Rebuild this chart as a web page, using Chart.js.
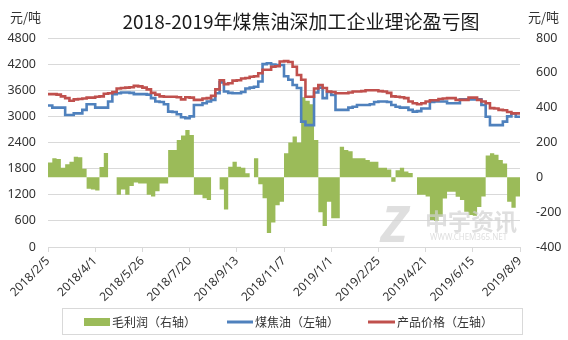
<!DOCTYPE html>
<html>
<head>
<meta charset="utf-8">
<title>煤焦油深加工企业理论盈亏图</title>
<script src="https://cdn.jsdelivr.net/npm/chart.js@4/dist/chart.umd.min.js"></script>
<style>
  html, body { margin: 0; padding: 0; background: #fff; }
  #wrap { width: 568px; height: 340px; }
</style>
</head>
<body>
<div id="wrap"><canvas id="chart" width="568" height="340"></canvas></div>
<script>
// date ticks on the x axis, one every 55 days
const tickLabels = ['2018/2/5', '2018/4/1', '2018/5/26', '2018/7/20', '2018/9/13', '2018/11/7',
  '2019/1/1', '2019/2/25', '2019/4/21', '2019/6/15', '2019/8/9'];

// 5-day samples from 2018/2/5 to 2019/8/9 (111 points)
// gross profit, yuan/ton (right axis)
const profit = [
  85, 110, 105, 55, 75, 90, 118, 115, 50, -65, -70,
  -75, 60, 140, 0, 0, -100, -70, -100, -50, -30, -35,
  -35, -100, -110, -80, -35, -35, 157, 157, 214, 240, 272,
  243, -100, -100, -120, -130, 0, 0, -70, -185, 61, 90,
  61, 55, 23, 0, 109, -40, -120, -320, -260, -160, -140,
  138, 200, 235, 200, 460, 440, 420, 214, -200, -280, -140,
  -235, -235, 176, 157, 150, 109, 109, 109, 100, 90, 90,
  55, 55, 45, -25, 40, 55, 33, 25, 0, -100, -100,
  -110, -245, -250, -226, -121, -83, -83, -111, -130, -197, -216,
  -220, -170, -110, 125, 138, 130, 100, 80, -140, -175, -110,
  -110
];

// coal tar price, yuan/ton (left axis)
const coalTar = [
  3250, 3200, 3200, 3200, 3030, 3030, 3070, 3070, 3150, 3280, 3280,
  3200, 3200, 3200, 3340, 3510, 3530, 3550, 3550, 3540, 3510, 3510,
  3510, 3500, 3420, 3340, 3330, 3280, 3110, 3100, 3050, 2980, 2960,
  3000, 3260, 3260, 3300, 3340, 3380, 3530, 3780, 3570, 3540, 3530,
  3530, 3560, 3640, 3660, 3680, 3800, 4200, 4220, 4190, 4180, 4180,
  3920, 3840, 3720, 3650, 2880, 2800, 2800, 3550, 3660, 3420, 3560,
  3490, 3150, 3150, 3150, 3200, 3220, 3260, 3260, 3260, 3280, 3330,
  3340, 3340, 3330, 3260, 3220, 3200, 3200, 3150, 3110, 3120, 3180,
  3180, 3330, 3340, 3340, 3340, 3300, 3300, 3300, 3390, 3390, 3390,
  3390, 3390, 3260, 2990, 2800, 2800, 2800, 2880, 3000, 3070, 2990,
  2990
];

// product basket price, yuan/ton (left axis)
const productPrice = [
  3510, 3510, 3500, 3460, 3420, 3360, 3390, 3400, 3410, 3430, 3430,
  3450, 3460, 3520, 3530, 3560, 3640, 3650, 3660, 3670, 3700, 3690,
  3660, 3620, 3540, 3500, 3460, 3450, 3450, 3450, 3440, 3390, 3440,
  3430, 3380, 3380, 3410, 3420, 3470, 3620, 3830, 3740, 3760, 3820,
  3830, 3870, 3880, 3910, 3920, 3990, 4070, 4070, 4140, 4150, 4260,
  4270, 4250, 4140, 3950, 3840, 3450, 3450, 3640, 3720, 3650, 3570,
  3560, 3530, 3530, 3530, 3550, 3570, 3570, 3580, 3600, 3600, 3600,
  3580, 3570, 3540, 3460, 3450, 3440, 3420, 3340, 3300, 3280, 3300,
  3340, 3370, 3370, 3400, 3410, 3420, 3420, 3380, 3380, 3380, 3430,
  3430, 3380, 3340, 3300, 3190, 3180, 3150, 3140, 3100, 3070, 3070,
  3070
];

const legendNames = ['毛利润（右轴）', '煤焦油（左轴）', '产品价格（左轴）'];
const GREEN = '#9bbb59', BLUE = '#4f81bd', RED = '#c0504d';
const GRID = '#d9d9d9', TEXT = '#333333';
const NUM_FONT = '"Noto Sans", "Noto Sans CJK SC", sans-serif';
const CJK_FONT = '"Noto Sans CJK SC", "Noto Sans", sans-serif';

const TICK_EVERY = (profit.length - 1) / (tickLabels.length - 1);
const labels = profit.map((_, i) => i);

// title, unit captions, watermark and the boxed legend
const decorations = {
  id: 'decorations',
  afterDatasetsDraw(chart) {
    const ctx = chart.ctx;
    ctx.save();
    // watermark
    ctx.fillStyle = 'rgba(210,210,210,0.7)';
    ctx.textBaseline = 'alphabetic';
    ctx.textAlign = 'left';
    ctx.font = 'italic bold 50px ' + NUM_FONT;
    ctx.fillText('Z', 381, 242);
    ctx.font = 'bold 23px ' + CJK_FONT;
    ctx.fillText('中宇资讯', 425, 230);
    ctx.font = '8px ' + NUM_FONT;
    ctx.fillText('WWW.CHEM365.NET', 430, 240);
    ctx.restore();
  },
  afterDraw(chart) {
    const ctx = chart.ctx;
    ctx.save();
    ctx.fillStyle = '#1a1a1a';
    ctx.textBaseline = 'middle';
    ctx.textAlign = 'center';
    ctx.font = '19px ' + CJK_FONT;
    ctx.fillText('2018-2019年煤焦油深加工企业理论盈亏图', 301, 22);

    ctx.fillStyle = TEXT;
    ctx.font = '13px ' + CJK_FONT;
    ctx.textAlign = 'left';
    ctx.fillText('元/吨', 10, 17);
    ctx.fillText('元/吨', 528, 17);

    // legend
    ctx.strokeStyle = GRID;
    ctx.lineWidth = 1;
    ctx.strokeRect(62.5, 308.5, 460, 26);
    const cy = 322;
    ctx.fillStyle = GREEN;
    ctx.fillRect(84, cy - 4, 26, 8);
    ctx.lineWidth = 3;
    ctx.strokeStyle = BLUE;
    ctx.beginPath(); ctx.moveTo(227, cy); ctx.lineTo(253, cy); ctx.stroke();
    ctx.strokeStyle = RED;
    ctx.beginPath(); ctx.moveTo(368, cy); ctx.lineTo(395, cy); ctx.stroke();
    ctx.fillStyle = TEXT;
    ctx.font = '12px ' + CJK_FONT;
    ctx.fillText(legendNames[0], 112, cy);
    ctx.fillText(legendNames[1], 255, cy);
    ctx.fillText(legendNames[2], 397, cy);
    ctx.restore();
  }
};

new Chart(document.getElementById('chart'), {
  type: 'line',
  data: {
    labels,
    datasets: [
      {
        label: legendNames[2], data: productPrice, yAxisID: 'y', order: 1,
        borderColor: RED, borderWidth: 2.6, stepped: true, pointRadius: 0, fill: false
      },
      {
        label: legendNames[1], data: coalTar, yAxisID: 'y', order: 2,
        borderColor: BLUE, borderWidth: 2.6, stepped: true, pointRadius: 0, fill: false
      },
      {
        label: legendNames[0], data: profit, yAxisID: 'y1', order: 3,
        borderColor: GREEN, borderWidth: 0, backgroundColor: GREEN,
        stepped: true, pointRadius: 0, fill: 'origin'
      }
    ]
  },
  options: {
    responsive: false,
    animation: false,
    layout: { padding: { top: 38, left: 0, right: 0, bottom: 0 } },
    plugins: { legend: { display: false }, title: { display: false }, tooltip: { enabled: false } },
    scales: {
      x: {
        type: 'category',
        offset: false,
        grid: { drawOnChartArea: false, color: GRID, tickColor: GRID, tickLength: 5 },
        border: { color: GRID },
        ticks: {
          autoSkip: false, minRotation: 45, maxRotation: 45, padding: 2,
          color: TEXT, font: { family: NUM_FONT, size: 12 },
          callback: (v, i) => (i % TICK_EVERY === 0 ? tickLabels[i / TICK_EVERY] : null)
        },
        afterFit: s => { s.height = 93; }
      },
      y: {
        position: 'left', min: 0, max: 4800,
        grid: { color: GRID, drawTicks: false },
        border: { display: false },
        ticks: {
          stepSize: 600, padding: 12, color: TEXT, font: { family: NUM_FONT, size: 12.5 },
          callback: v => String(v)
        },
        afterFit: s => { s.width = 48; }
      },
      y1: {
        position: 'right', min: -400, max: 800,
        grid: { drawOnChartArea: false, drawTicks: false },
        border: { display: false },
        ticks: {
          stepSize: 200, padding: 16, color: TEXT, font: { family: NUM_FONT, size: 12.5 },
          callback: v => String(v)
        },
        afterFit: s => { s.width = 48; }
      }
    }
  },
  plugins: [decorations]
});
</script>
</body>
</html>
